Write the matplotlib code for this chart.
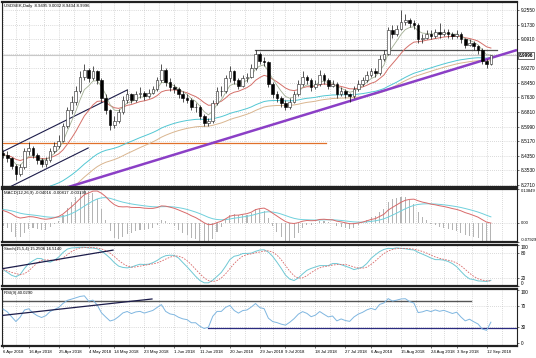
import matplotlib.pyplot as plt
import numpy as np
import pandas as pd

plt.rcParams['font.family'] = ['Liberation Sans', 'DejaVu Sans']

header = "USDSEK,Daily  8.9495 9.0032 8.9434 8.9996"
macd_title = "MACD(12,26,9) -0.04016 -0.00817 -0.03199"
stoch_title = "Stoch(15,5,4) 15.2506 16.5140"
rsi_title = "RSI(9) 40.0290"

dates = pd.bdate_range("2018-04-06", "2018-09-13")
date_labels = ["6 Apr 2018", "16 Apr 2018", "25 Apr 2018", "4 May 2018", "14 May 2018",
               "23 May 2018", "1 Jun 2018", "11 Jun 2018", "20 Jun 2018", "29 Jun 2018",
               "9 Jul 2018", "18 Jul 2018", "27 Jul 2018", "6 Aug 2018", "15 Aug 2018",
               "24 Aug 2018", "3 Sep 2018", "12 Sep 2018"]

first_open = 8.45
closes = [8.44, 8.42, 8.38, 8.33, 8.37, 8.46, 8.48, 8.44, 8.41, 8.39,
          8.41, 8.46, 8.49, 8.52, 8.60, 8.69, 8.74, 8.80, 8.88, 8.92,
          8.87, 8.91, 8.86, 8.76, 8.69, 8.61, 8.63, 8.68, 8.75, 8.78,
          8.75, 8.78, 8.79, 8.77, 8.79, 8.81, 8.86, 8.92, 8.85, 8.82,
          8.81, 8.78, 8.76, 8.75, 8.71, 8.71, 8.66, 8.62, 8.63, 8.73,
          8.80, 8.80, 8.87, 8.91, 8.86, 8.83, 8.87, 8.88, 8.93, 9.01,
          8.97, 8.96, 8.84, 8.78, 8.76, 8.73, 8.71, 8.74, 8.78, 8.84,
          8.88, 8.86, 8.82, 8.84, 8.89, 8.86, 8.83, 8.84, 8.78, 8.80,
          8.78, 8.77, 8.81, 8.84, 8.86, 8.89, 8.91, 8.90, 8.98, 9.01,
          9.14, 9.12, 9.15, 9.19, 9.20, 9.18, 9.17, 9.09, 9.10, 9.12,
          9.11, 9.13, 9.12, 9.13, 9.12, 9.11, 9.12, 9.09, 9.06, 9.07,
          9.05, 9.03, 8.97, 8.9495, 8.9996]
highs = [8.47, 8.46, 8.43, 8.39, 8.39, 8.48, 8.51, 8.49, 8.45, 8.42,
         8.43, 8.48, 8.51, 8.55, 8.62, 8.71, 8.77, 8.83, 8.91, 8.95,
         8.93, 8.94, 8.92, 8.87, 8.78, 8.70, 8.66, 8.70, 8.77, 8.81,
         8.79, 8.80, 8.82, 8.80, 8.81, 8.83, 8.88, 8.95, 8.93, 8.87,
         8.84, 8.82, 8.80, 8.78, 8.76, 8.73, 8.72, 8.67, 8.65, 8.75,
         8.82, 8.83, 8.89, 8.94, 8.92, 8.87, 8.89, 8.90, 8.95, 9.03,
         9.02, 8.99, 8.97, 8.85, 8.80, 8.77, 8.75, 8.76, 8.80, 8.86,
         8.91, 8.89, 8.87, 8.86, 8.92, 8.90, 8.87, 8.86, 8.85, 8.82,
         8.81, 8.79, 8.83, 8.86, 8.88, 8.91, 8.93, 8.93, 9.00, 9.03,
         9.16, 9.17, 9.17, 9.255, 9.23, 9.21, 9.20, 9.18, 9.12, 9.14,
         9.14, 9.15, 9.18, 9.15, 9.15, 9.13, 9.14, 9.13, 9.10, 9.09,
         9.08, 9.06, 9.04, 8.98, 9.0032]
lows = [8.42, 8.40, 8.36, 8.30, 8.32, 8.36, 8.44, 8.42, 8.39, 8.37,
        8.37, 8.40, 8.45, 8.48, 8.51, 8.59, 8.67, 8.72, 8.79, 8.86,
        8.85, 8.86, 8.84, 8.74, 8.67, 8.58, 8.59, 8.62, 8.67, 8.73,
        8.73, 8.74, 8.76, 8.75, 8.76, 8.78, 8.80, 8.85, 8.83, 8.80,
        8.79, 8.76, 8.74, 8.73, 8.69, 8.68, 8.64, 8.60, 8.60, 8.62,
        8.72, 8.77, 8.79, 8.85, 8.84, 8.81, 8.82, 8.85, 8.87, 8.92,
        8.95, 8.94, 8.82, 8.76, 8.74, 8.71, 8.69, 8.70, 8.73, 8.77,
        8.83, 8.84, 8.80, 8.81, 8.83, 8.84, 8.81, 8.82, 8.76, 8.77,
        8.76, 8.74, 8.76, 8.80, 8.83, 8.85, 8.88, 8.88, 8.89, 8.97,
        9.00, 9.10, 9.11, 9.14, 9.17, 9.16, 9.15, 9.07, 9.07, 9.09,
        9.09, 9.10, 9.10, 9.11, 9.10, 9.09, 9.10, 9.07, 9.04, 9.05,
        9.03, 9.01, 8.95, 8.93, 8.9434]

ma_fast, ma_mid = 5, 13
ma_cyan, cyan_start = 50, 8.17
ma_tan, tan_start = 55, 8.05
macd_fast_start, macd_slow_start, macd_signal_start = 8.45, 8.395, 0.055
rsi_gain_start, rsi_loss_start = 0.020, 0.010

# drawn objects: (bar, value) anchors
purple_line = ([14.5, 120.1], [8.254, 9.030])
channel_top = ([-0.2, 29.0], [8.457, 8.805])
channel_bottom = ([1.6, 19.9], [8.260, 8.479])
resistance = ([58.9, 115.4], [9.030, 9.030])
support_orange = ([-0.2, 75.5], [8.507, 8.507])
stoch_trend = ([0.0, 25.7], [42.5, 87.5])
rsi_trend = ([-0.2, 34.8], [52.0, 83.0])
rsi_top = ([-0.2, 109.3], [79.5, 79.5])
rsi_bottom = ([47.9, 121.0], [28.5, 28.5])

main_ticks = [9.2550, 9.1730, 9.0910, 9.0090, 8.9270, 8.8450, 8.7630,
              8.6810, 8.5990, 8.5170, 8.4350, 8.3530, 8.2710]


def ema(values, span, start):
    a = 2.0 / (span + 1)
    out = []
    v = start
    for val in values:
        v = v + a * (val - v)
        out.append(v)
    return np.array(out)


def wilder(values, n, start):
    out = []
    v = start
    for val in values:
        v = v + (val - v) / n
        out.append(v)
    return np.array(out)


c = np.array(closes)
h = np.array(highs)
l = np.array(lows)
o = np.array([first_open] + closes[:-1])
x = np.arange(len(c))

fast = ema(c, ma_fast, c[0])
mid = ema(c, ma_mid, c[0])
cyan = ema(c, ma_cyan, cyan_start)
tan = ema(c, ma_tan, tan_start)

macd = ema(c, 12, macd_fast_start) - ema(c, 26, macd_slow_start)
signal = ema(macd, 9, macd_signal_start)
hist = (macd - signal) * 3

hh = pd.Series(h).rolling(15, min_periods=1).max()
ll = pd.Series(l).rolling(15, min_periods=1).min()
num = (pd.Series(c) - ll).rolling(5, min_periods=1).sum()
den = (hh - ll).rolling(5, min_periods=1).sum()
stoch_k = 100 * num / den
stoch_d = stoch_k.rolling(4, min_periods=1).mean()

diff = np.diff(c, prepend=first_open)
gain = wilder(np.where(diff > 0, diff, 0), 9, rsi_gain_start)
loss = wilder(np.where(diff < 0, -diff, 0), 9, rsi_loss_start)
rsi = 100 - 100 / (1 + gain / loss)

label_pos = [dates.get_loc(pd.Timestamp(d)) for d in date_labels]
mid_pos = [(a + b) / 2 for a, b in zip(label_pos[:-1], label_pos[1:])]
mid_pos.append(label_pos[-1] + 3.5)

fig = plt.figure(figsize=(5.36, 3.58), dpi=100)
W, H = 536, 358
boxes = [(2, 187), (189, 242), (245, 286), (289, 346)]
axes = []
for top, bot in boxes:
    axes.append(fig.add_axes([2 / W, 1 - bot / H, 515 / W, (bot - top) / H]))
ax, ax_macd, ax_stoch, ax_rsi = axes

fs = 3.4
tfs = 3.1
grid_kw = dict(color='#b8b8b8', linestyle=(0, (1, 2)), linewidth=0.5, zorder=0)
for a in axes:
    a.set_xlim(-0.25, 120.1)
    for s in a.spines.values():
        s.set_color('#222222')
        s.set_linewidth(0.8)
    a.spines['top'].set_linewidth(1.6)
    a.spines['bottom'].set_linewidth(1.6)
    a.yaxis.tick_right()
    a.tick_params(axis='y', labelsize=fs, length=1.5, width=0.4, pad=1)
    a.tick_params(axis='x', length=0)
    a.set_xticks(label_pos)
    a.set_xticklabels([])
    for p in label_pos + mid_pos:
        a.axvline(p, **grid_kw)

# main chart
ax.set_ylim(8.2595, 9.300)
ax.set_yticks([t for t in main_ticks if t != 9.0090])
ax.set_yticklabels(["%.4f" % t for t in main_ticks if t != 9.0090])
for t in main_ticks:
    ax.axhline(t, **grid_kw)
ax.axhline(c[-1], color='#c8c8c8', linewidth=0.8, zorder=1)
ax.text(1.003, c[-1], "%.4f" % c[-1], transform=ax.get_yaxis_transform(), fontsize=fs,
        va='center', ha='left', fontweight='bold',
        bbox=dict(boxstyle='square,pad=0.15', facecolor='white', edgecolor='#333333', linewidth=0.5))

ax.plot(*support_orange, color='#e0702a', linewidth=0.9, zorder=2)
ax.plot(*resistance, color='#505050', linewidth=0.9, zorder=2)
ax.plot(*channel_top, color='#1c1c4a', linewidth=0.8, zorder=2)
ax.plot(*channel_bottom, color='#1c1c4a', linewidth=0.8, zorder=2)
ax.plot(x, tan, color='#d9b58f', linewidth=0.7, zorder=2)
ax.plot(x, cyan, color='#52c7d3', linewidth=0.7, zorder=2)
ax.plot(x, mid, color='#d4706a', linewidth=0.7, zorder=2)
ax.plot(x, fast, color='#a3b094', linewidth=0.6, zorder=2)
ax.plot(*purple_line, color='#8b3fc6', linewidth=1.8, zorder=2, solid_capstyle='butt')

up = c >= o
ax.vlines(x, l, h, color='#111111', linewidth=0.5, zorder=3)
ax.bar(x[up], np.maximum(c[up] - o[up], 0.002), bottom=o[up], width=0.62,
       color='white', edgecolor='#222222', linewidth=0.4, zorder=4)
ax.bar(x[~up], o[~up] - c[~up], bottom=c[~up], width=0.62,
       color='black', edgecolor='black', linewidth=0.4, zorder=4)
ax.text(0.004, 0.988, header, transform=ax.transAxes, fontsize=tfs, va='top', ha='left')

# MACD
ax_macd.set_ylim(-0.07929, 0.13849)
ax_macd.set_yticks([0.13849, 0.0, -0.07929])
ax_macd.set_yticklabels(["0.13849", "0.00", "-0.07929"], fontsize=3.0)
ax_macd.get_yticklabels()[0].set_va('top')
ax_macd.get_yticklabels()[2].set_va('bottom')
ax_macd.axhline(0, **grid_kw)
ax_macd.bar(x, hist, width=0.25, color='#b4b4b4', zorder=2)
ax_macd.plot(x, signal, color='#6fd0dc', linewidth=0.7, zorder=3)
ax_macd.plot(x, macd, color='#d86a6a', linewidth=0.7, zorder=3)
ax_macd.text(0.004, 0.96, macd_title, transform=ax_macd.transAxes, fontsize=tfs, va='top')

# Stochastic
ax_stoch.set_ylim(0, 100)
ax_stoch.set_yticks([100, 80, 20, 0])
ax_stoch.set_yticklabels(["100", "80", "20", "0"])
ax_stoch.get_yticklabels()[0].set_va('top')
ax_stoch.get_yticklabels()[3].set_va('bottom')
for lv in (80, 20):
    ax_stoch.axhline(lv, **grid_kw)
ax_stoch.plot(x, stoch_k, color='#6fc8d4', linewidth=0.7, zorder=3)
ax_stoch.plot(x, stoch_d, color='#d86a6a', linewidth=0.6, linestyle=(0, (2, 1.5)), zorder=3)
ax_stoch.plot(*stoch_trend, color='#1c1c4a', linewidth=0.9, zorder=4)
ax_stoch.text(0.004, 0.95, stoch_title, transform=ax_stoch.transAxes, fontsize=tfs, va='top')

# RSI
ax_rsi.set_ylim(-5.5, 101.8)
ax_rsi.set_yticks([100, 70, 30, 0])
ax_rsi.set_yticklabels(["100", "70", "30", "0"])
ax_rsi.get_yticklabels()[0].set_va('top')
for lv in (70, 30):
    ax_rsi.axhline(lv, **grid_kw)
ax_rsi.plot(x, rsi, color='#7fb6e0', linewidth=0.7, zorder=3)
ax_rsi.plot(*rsi_top, color='#555555', linewidth=1.0, zorder=2)
ax_rsi.plot(*rsi_bottom, color='#2a2a80', linewidth=0.9, zorder=2)
ax_rsi.plot(*rsi_trend, color='#1c1c4a', linewidth=0.9, zorder=4)
ax_rsi.text(0.004, 0.97, rsi_title, transform=ax_rsi.transAxes, fontsize=tfs, va='top')
ax_rsi.set_xticklabels(date_labels, fontsize=3.1, ha='left')
ax_rsi.tick_params(axis='x', length=1.5, width=0.4, pad=1.5)

fig.savefig("out.png", dpi=100, facecolor='white')
